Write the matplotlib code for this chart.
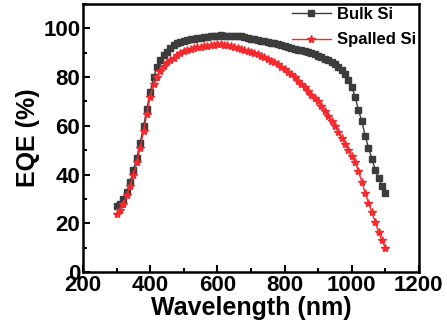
import matplotlib
matplotlib.use("Agg")
import matplotlib.pyplot as plt
from matplotlib.ticker import MultipleLocator

plt.rcParams['font.family'] = ['Liberation Sans', 'DejaVu Sans']
plt.rcParams['font.weight'] = 'bold'

wavelength = list(range(300, 1101, 10))
bulk_si = [27, 28, 30, 33, 37, 42, 47, 53, 60, 67,
           74, 80, 84, 87, 89, 90.5, 92, 93, 94, 94.6,
           95, 95.3, 95.5, 95.7, 96, 96.2, 96.4, 96.6, 96.8, 97,
           97, 97.1, 97, 97, 97, 96.9, 96.8, 96.7, 96.4, 96,
           95.8, 95.5, 95.3, 95, 94.7, 94.4, 94.1, 93.8, 93.5, 93.2,
           92.8, 92.4, 92, 91.6, 91.3, 91, 90.6, 90.2, 89.8, 89.3,
           88.8, 88.2, 87.6, 87, 86.3, 85.5, 84.3, 83, 81.3, 79,
           76, 72, 66.5, 62, 56, 51, 46.5, 42, 38.5, 35.5,
           32.5]
spalled_si = [24, 25.5, 28, 31.5, 35.5, 40, 45, 51, 58, 65,
              72, 77, 80, 82.5, 84.5, 86, 87, 88, 89, 90,
              90.6, 91.1, 91.5, 91.9, 92.2, 92.5, 92.7, 92.9, 93.1, 93.3,
              93.4, 93.4, 93.3, 93.1, 92.8, 92.5, 92.1, 91.6, 91.2, 90.8,
              90.4, 89.9, 89.3, 88.7, 88.1, 87.5, 86.8, 86, 85.2, 84.3,
              83.4, 82.3, 81.2, 80, 78.6, 77.2, 75.8, 74.3, 72.8, 71.3,
              70, 68, 66, 64, 62, 60, 57.5, 55, 52.5, 50,
              47.5, 45, 41.5, 37, 32.5, 28.5, 24.5, 20.5, 16.5, 13,
              10]

fig = plt.figure(figsize=(4.47, 3.35), dpi=100)
ax = fig.add_axes([0.186, 0.188, 0.751, 0.800])

ax.plot(wavelength, bulk_si, color='#3c3c3c', marker='s', markersize=4.5,
        linewidth=1.0, label='Bulk Si')
ax.plot(wavelength, spalled_si, color='#f52a2e', marker='*', markersize=6,
        linewidth=1.0, label='Spalled Si')

ax.set_xlim(200, 1200)
ax.set_ylim(0, 110)
ax.xaxis.set_major_locator(MultipleLocator(200))
ax.xaxis.set_minor_locator(MultipleLocator(100))
ax.yaxis.set_major_locator(MultipleLocator(20))
ax.yaxis.set_minor_locator(MultipleLocator(10))
ax.tick_params(which='both', direction='in', width=1.5, labelsize=16)
ax.tick_params(which='major', length=5, pad=2)
ax.tick_params(which='minor', length=3)
for s in ax.spines.values():
    s.set_linewidth(1.8)
for lab in ax.get_xticklabels() + ax.get_yticklabels():
    lab.set_fontweight('bold')

ax.set_xlabel('Wavelength (nm)', fontsize=18, fontweight='bold', labelpad=0)
ax.set_ylabel('EQE (%)', fontsize=18, fontweight='bold', labelpad=2)

leg = ax.legend(loc='upper right', frameon=False, fontsize=12,
                handlelength=2.3, borderaxespad=0.0, borderpad=0.15,
                labelspacing=0.65, handletextpad=0.4,
                bbox_to_anchor=(1.0, 1.0))
for t in leg.get_texts():
    t.set_fontweight('bold')

fig.savefig('out.png', dpi=100)
